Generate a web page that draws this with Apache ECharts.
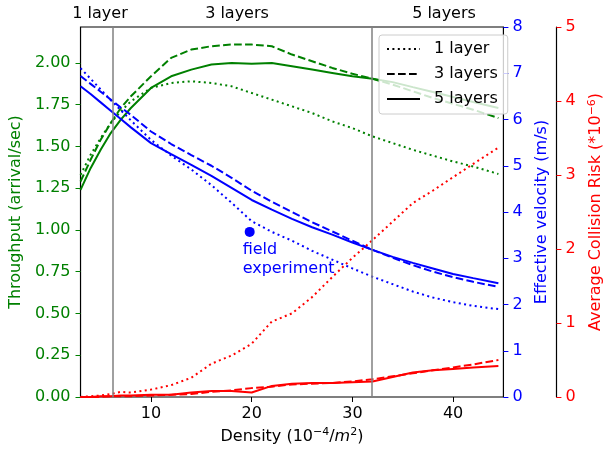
<!DOCTYPE html>
<html style="height: 100%">
<head>
  <meta charset="utf-8">
  <title>density</title>
</head>
<body style="height: 100%; margin: 0; background: #fff">
<div id="container" style="width: 612px; height: 452px"></div>

<script src="https://cdn.jsdelivr.net/npm/echarts@6/dist/echarts.min.js"></script>
<script>
  // density samples (10^-4 / m^2)
  var densities = [3, 4, 5, 6, 7, 8, 10, 12, 14, 16, 18, 20, 22, 24, 26, 28, 30, 32, 34, 36, 38, 40, 42, 44.5];

  // throughput (arrival/sec)
  var throughput1 = [1.33, 1.45, 1.55, 1.64, 1.71, 1.77, 1.85, 1.88, 1.89, 1.88, 1.86, 1.82, 1.78, 1.74, 1.70, 1.65, 1.61, 1.56, 1.52, 1.48, 1.445, 1.41, 1.38, 1.335];
  var throughput3 = [1.29, 1.42, 1.54, 1.64, 1.73, 1.80, 1.92, 2.03, 2.08, 2.10, 2.11, 2.11, 2.10, 2.05, 2.01, 1.97, 1.935, 1.905, 1.87, 1.83, 1.79, 1.755, 1.72, 1.67];
  var throughput5 = [1.24, 1.37, 1.48, 1.58, 1.66, 1.73, 1.85, 1.92, 1.96, 1.99, 2.00, 1.995, 2.00, 1.98, 1.96, 1.94, 1.92, 1.905, 1.885, 1.855, 1.826, 1.796, 1.766, 1.73];

  // effective velocity (m/s)
  var velocity1 = [7.11, 6.88, 6.65, 6.42, 6.20, 5.98, 5.56, 5.22, 4.92, 4.58, 4.20, 3.80, 3.57, 3.38, 3.16, 2.97, 2.78, 2.60, 2.44, 2.28, 2.15, 2.05, 1.97, 1.90];
  var velocity3 = [6.94, 6.77, 6.60, 6.43, 6.26, 6.10, 5.74, 5.47, 5.23, 5.00, 4.74, 4.46, 4.22, 4.00, 3.78, 3.58, 3.38, 3.18, 3.01, 2.85, 2.71, 2.59, 2.49, 2.38];
  var velocity5 = [6.72, 6.55, 6.37, 6.19, 6.01, 5.83, 5.49, 5.25, 5.02, 4.78, 4.52, 4.26, 4.05, 3.85, 3.67, 3.51, 3.34, 3.18, 3.03, 2.90, 2.78, 2.66, 2.57, 2.46];

  // average collision risk (*10^-6)
  var risk1 = [0, 0.01, 0.02, 0.04, 0.07, 0.06, 0.10, 0.16, 0.26, 0.45, 0.56, 0.72, 1.02, 1.13, 1.35, 1.62, 1.88, 2.12, 2.37, 2.62, 2.79, 2.97, 3.15, 3.37];
  var risk3 = [0, 0, 0, 0.01, 0.01, 0.01, 0.02, 0.03, 0.04, 0.07, 0.09, 0.12, 0.14, 0.17, 0.18, 0.19, 0.21, 0.24, 0.28, 0.32, 0.36, 0.40, 0.44, 0.50];
  var risk5 = [0, 0, 0.01, 0.01, 0.02, 0.02, 0.03, 0.03, 0.06, 0.08, 0.08, 0.06, 0.15, 0.18, 0.19, 0.19, 0.20, 0.21, 0.27, 0.33, 0.36, 0.38, 0.40, 0.42];

  var fieldExperiment = [19.8, 3.57];
  var layerBounds = [6.2, 31.9];
  var layerNames = ['1 layer', '3 layers', '5 layers'];

  var xTicks = [10, 20, 30, 40];
  var throughputTicks = [0, 0.25, 0.5, 0.75, 1, 1.25, 1.5, 1.75, 2];

  var FONT = 'DejaVu Sans';
  var dotted = [2, 3.4];
  var dashed = [7.7, 3.3];

  function pairs(ys) {
    return densities.map(function (d, i) { return [d, ys[i]]; });
  }

  function lineSeries(name, ys, axis, color, type) {
    return {
      name: name,
      type: 'line',
      yAxisIndex: axis,
      data: pairs(ys),
      symbol: 'none',
      silent: true,
      lineStyle: { color: color, width: 2, type: type }
    };
  }

  var chart = echarts.init(document.getElementById('container'));

  var series = [
    lineSeries('t1', throughput1, 0, '#008000', dotted),
    lineSeries('t3', throughput3, 0, '#008000', dashed),
    lineSeries('t5', throughput5, 0, '#008000', 'solid'),
    lineSeries('v1', velocity1, 1, '#0000ff', dotted),
    lineSeries('v3', velocity3, 1, '#0000ff', dashed),
    lineSeries('v5', velocity5, 1, '#0000ff', 'solid'),
    lineSeries('r1', risk1, 2, '#ff0000', dotted),
    lineSeries('r3', risk3, 2, '#ff0000', dashed),
    lineSeries('r5', risk5, 2, '#ff0000', 'solid'),
    {
      name: 'field',
      type: 'scatter',
      yAxisIndex: 1,
      data: [fieldExperiment],
      symbolSize: 10,
      itemStyle: { color: '#0000ff', opacity: 1 },
      silent: true,
      label: {
        show: true,
        position: 'bottom',
        distance: 3,
        align: 'left',
        offset: [-7, 0],
        formatter: 'field\nexperiment',
        color: '#0000ff',
        fontFamily: FONT,
        fontSize: 16,
        lineHeight: 19
      }
    },
    {
      name: 'bounds',
      type: 'line',
      data: [],
      markLine: {
        silent: true,
        symbol: 'none',
        label: { show: false },
        lineStyle: { color: '#808080', width: 1.5, type: 'solid' },
        data: layerBounds.map(function (v) { return { xAxis: v }; })
      }
    }
  ];

  // legend entries (black line samples)
  [dotted, dashed, 'solid'].forEach(function (t, i) {
    series.push({
      name: layerNames[i],
      type: 'line',
      data: [],
      symbol: 'none',
      itemStyle: { color: '#000' },
      lineStyle: { color: '#000', width: 2, type: t }
    });
  });

  var option = {
    animation: false,
    textStyle: { fontFamily: FONT },
    grid: {
      left: 79, right: 96, top: 27, bottom: 55,
      show: true, borderColor: '#000', borderWidth: 1.2, backgroundColor: 'transparent'
    },
    legend: {
      data: layerNames,
      orient: 'vertical',
      left: 379,
      top: 35,
      padding: [5, 10, 6, 7],
      itemWidth: 33,
      itemHeight: 14,
      itemGap: 7,
      selectedMode: false,
      itemStyle: { opacity: 0 },
      backgroundColor: 'rgba(255,255,255,0.8)',
      borderColor: '#cccccc',
      borderWidth: 1,
      borderRadius: 3,
      textStyle: { fontFamily: FONT, fontSize: 16, color: '#000', lineHeight: 18, padding: [0, 0, 0, 9] }
    },
    xAxis: {
      type: 'value',
      min: 3,
      max: 45,
      name: 'Density (10{sup|\u22124}/{it|m}{sup|2})',
      nameLocation: 'middle',
      nameGap: 27,
      nameTextStyle: {
        fontFamily: FONT, fontSize: 16, color: '#000',
        rich: {
          sup: { fontSize: 11, verticalAlign: 'top', padding: [0, 0, 8, 0], fontFamily: FONT },
          it: { fontStyle: 'italic', fontSize: 16, fontFamily: FONT }
        }
      },
      splitLine: { show: false },
      axisLine: { show: false },
      axisTick: { show: true, length: 5, customValues: xTicks, lineStyle: { color: '#000', width: 1 } },
      axisLabel: { customValues: xTicks, margin: 9, color: '#000', fontSize: 16, fontFamily: FONT }
    },
    yAxis: [
      {
        type: 'value',
        min: 0,
        max: 2.215,
        position: 'left',
        name: 'Throughput (arrival/sec)',
        nameLocation: 'middle',
        nameGap: 54,
        nameTextStyle: { color: '#008000', fontSize: 16, fontFamily: FONT },
        splitLine: { show: false },
        axisLine: { show: false },
        axisTick: { show: true, length: 5, customValues: throughputTicks, lineStyle: { color: '#008000' } },
        axisLabel: {
          customValues: throughputTicks, margin: 10, color: '#008000', fontSize: 16, fontFamily: FONT,
          formatter: function (v) { return v.toFixed(2); }
        }
      },
      {
        type: 'value',
        min: 0,
        max: 8,
        interval: 1,
        position: 'right',
        name: 'Effective velocity (m/s)',
        nameLocation: 'middle',
        nameGap: 27,
        nameTextStyle: { color: '#0000ff', fontSize: 16, fontFamily: FONT },
        splitLine: { show: false },
        axisLine: { show: false },
        axisTick: { show: true, length: 5, lineStyle: { color: '#0000ff' } },
        axisLabel: { margin: 9, color: '#0000ff', fontSize: 16, fontFamily: FONT }
      },
      {
        type: 'value',
        min: 0,
        max: 5,
        interval: 1,
        position: 'right',
        offset: 53,
        name: 'Average Collision Risk (*10{sup|\u22126})',
        nameLocation: 'middle',
        nameGap: 27,
        nameTextStyle: {
          color: '#ff0000', fontSize: 16, fontFamily: FONT,
          rich: { sup: { fontSize: 11, color: '#ff0000', verticalAlign: 'top', padding: [0, 0, 8, 0], fontFamily: FONT } }
        },
        splitLine: { show: false },
        axisLine: { show: true, lineStyle: { color: '#000', width: 1.2 } },
        axisTick: { show: true, length: 5, lineStyle: { color: '#ff0000' } },
        axisLabel: { margin: 9, color: '#ff0000', fontSize: 16, fontFamily: FONT }
      }
    ],
    graphic: [
      { type: 'text', x: 100, y: 14, style: { text: '1 layer', fill: '#000', font: '16px "DejaVu Sans"', align: 'center', verticalAlign: 'middle' } },
      { type: 'text', x: 237, y: 14, style: { text: '3 layers', fill: '#000', font: '16px "DejaVu Sans"', align: 'center', verticalAlign: 'middle' } },
      { type: 'text', x: 444, y: 14, style: { text: '5 layers', fill: '#000', font: '16px "DejaVu Sans"', align: 'center', verticalAlign: 'middle' } }
    ],
    series: series
  };

  chart.setOption(option);
</script>
</body>
</html>
